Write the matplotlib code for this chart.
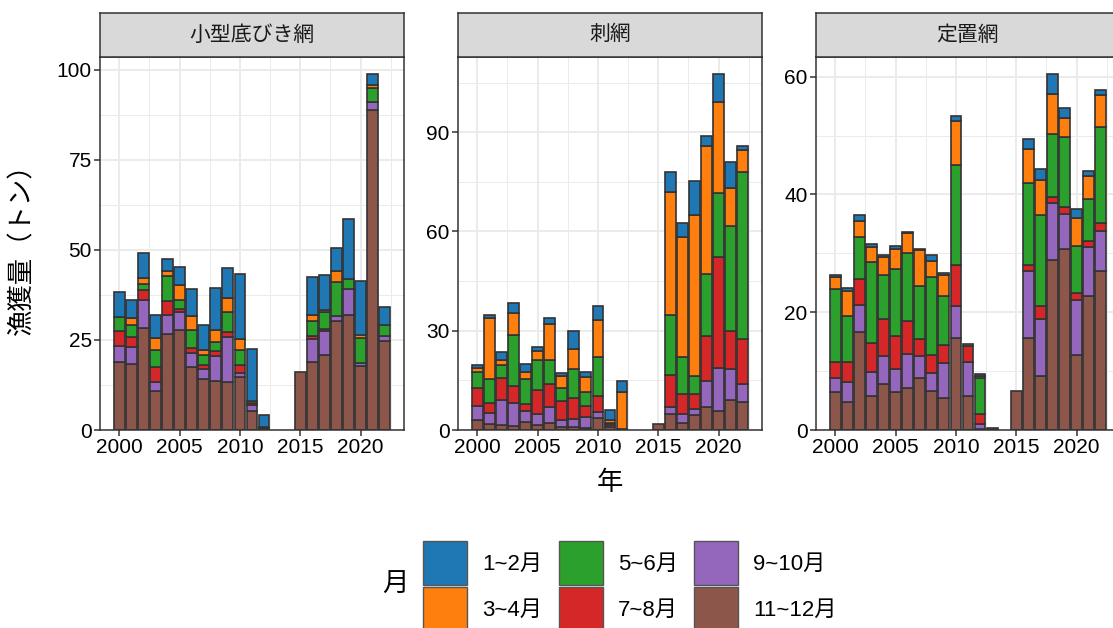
import matplotlib
matplotlib.use("Agg")
import matplotlib.pyplot as plt
import matplotlib.patches as mpatches
from matplotlib.ticker import MultipleLocator
import numpy as np

plt.rcParams['font.family'] = ['Liberation Sans', 'Noto Sans CJK JP', 'DejaVu Sans']

years = np.arange(2000, 2023)
months = ["1~2月", "3~4月", "5~6月", "7~8月", "9~10月", "11~12月"]
colors = ["#1F77B4", "#FF7F0E", "#2CA02C", "#D62728", "#9467BD", "#8C564B"]
gears = ["小型底びき網", "刺網", "定置網"]

# catch (t) per year, one row per month group, rows in the order of `months`
kogata = [
    [6.9, 5.1, 6.9, 6.5, 3.3, 5.1, 7.4, 6.9, 11.8, 8.3, 18.1, 14.4, 3.3, 0, 0, 0, 10.7, 9.5, 6.5, 16.7, 15.0, 2.9, 5.0],
    [0, 2.0, 1.5, 3.2, 1.3, 3.9, 3.8, 1.4, 3.4, 3.9, 3.2, 0.7, 0.3, 0, 0, 0, 1.6, 0.7, 3.1, 0, 0.8, 0.8, 0],
    [3.8, 3.4, 1.8, 4.8, 6.9, 2.6, 5.1, 3.0, 2.3, 5.7, 4.0, 0, 0, 0, 0, 0, 4.2, 4.6, 9.4, 2.6, 6.9, 4.0, 3.2],
    [4.3, 2.8, 2.6, 4.2, 4.1, 0.9, 1.4, 0.9, 1.6, 1.3, 2.3, 0.5, 0, 0, 0, 0, 0.7, 0.5, 0, 0, 0, 0, 0],
    [4.3, 4.5, 7.9, 2.6, 5.3, 5.0, 3.8, 2.8, 6.9, 12.6, 1.2, 1.5, 0, 0, 0, 0, 6.5, 6.7, 1.4, 7.2, 0.8, 2.1, 1.2],
    [19.0, 18.4, 28.3, 10.7, 26.5, 27.7, 17.5, 14.2, 13.5, 13.2, 14.6, 5.4, 0.5, 0, 0, 16.0, 18.8, 20.9, 30.2, 32.0, 17.8, 88.9, 24.8],
]
sashiami = [
    [0.8, 1.0, 2.3, 2.9, 2.5, 1.0, 2.0, 1.0, 5.5, 1.6, 4.3, 3.0, 3.3, 0, 0, 0, 6.1, 4.3, 10.4, 3.1, 8.4, 8.0, 1.1],
    [1.2, 18.5, 1.5, 6.8, 2.0, 2.8, 10.7, 3.4, 6.0, 4.3, 10.9, 0.8, 11.3, 0, 0, 0, 36.9, 36.4, 48.7, 38.7, 27.6, 11.6, 6.7],
    [4.7, 7.3, 4.0, 15.3, 7.5, 9.1, 7.3, 4.0, 8.9, 4.2, 11.8, 0.2, 0, 0, 0, 0, 18.4, 11.1, 5.3, 18.9, 19.2, 31.7, 50.3],
    [5.5, 3.0, 6.6, 5.2, 2.3, 7.3, 7.1, 5.8, 6.4, 3.4, 5.0, 0.4, 0, 0, 0, 0, 9.4, 6.1, 4.5, 13.4, 33.6, 11.3, 13.6],
    [4.3, 3.4, 7.6, 6.9, 3.1, 3.3, 4.8, 2.0, 2.2, 3.3, 1.7, 0.8, 0, 0, 0, 0, 2.3, 2.6, 1.8, 7.8, 12.9, 9.4, 5.4],
    [3.0, 1.7, 1.5, 1.2, 2.5, 1.5, 2.0, 1.0, 1.0, 0.7, 3.7, 0.8, 0.3, 0, 0, 1.7, 4.8, 2.2, 4.6, 7.1, 5.8, 9.1, 8.6],
]
teichi = [
    [0.4, 0.5, 1.0, 0.4, 0.3, 0.5, 0.2, 0.2, 1.0, 0.2, 1.0, 0, 0.3, 0, 0, 0, 1.7, 1.8, 3.4, 1.7, 1.5, 0.9, 0.9],
    [2.0, 4.2, 2.7, 2.6, 3.1, 3.5, 3.4, 6.0, 2.7, 3.6, 7.4, 0, 0.4, 0, 0, 0, 5.7, 6.0, 6.8, 3.3, 4.8, 3.8, 5.4],
    [12.4, 7.8, 7.2, 13.8, 7.4, 11.4, 11.5, 9.0, 13.2, 8.4, 17.0, 0.3, 6.0, 0, 0, 0, 13.9, 15.5, 10.7, 11.9, 8.0, 7.2, 16.4],
    [2.7, 3.4, 4.3, 4.9, 6.4, 5.5, 5.6, 3.0, 3.1, 3.1, 6.9, 2.8, 1.7, 0, 0, 0, 1.1, 2.1, 1.0, 1.2, 1.2, 1.1, 1.3],
    [2.4, 3.5, 4.7, 4.1, 4.7, 3.9, 5.7, 3.7, 3.1, 5.9, 5.4, 5.7, 0.9, 0, 0, 0, 11.4, 9.8, 9.6, 5.9, 9.2, 8.2, 6.8],
    [6.5, 4.7, 16.6, 5.7, 7.8, 6.5, 7.2, 8.8, 6.6, 5.4, 15.7, 5.8, 0.2, 0.3, 0, 6.7, 15.6, 9.1, 28.9, 30.7, 12.8, 22.8, 27.0],
]
catches = [kogata, sashiami, teichi]
y_steps = [25, 30, 20]

W, H = 1113, 628
fig = plt.figure(figsize=(W / 100, H / 100), dpi=100)


def px_rect(x0, y0, x1, y1):
    return [x0 / W, 1 - y1 / H, (x1 - x0) / W, (y1 - y0) / H]


edge = "#333333"
panel_left = [100, 458, 816]
panel_w = 304

for gi, gear in enumerate(gears):
    x0 = panel_left[gi]
    ax = fig.add_axes(px_rect(x0, 56.5, x0 + panel_w, 430))
    data = np.array(catches[gi])

    # stack from the last month group upwards so 1~2月 ends on top
    bottom = np.zeros(len(years))
    for mi in range(len(months) - 1, -1, -1):
        vals = data[mi]
        m = vals > 0
        ax.bar(years[m], vals[m], bottom=bottom[m], width=0.9,
               color=colors[mi], edgecolor=edge, linewidth=1.2, zorder=3)
        bottom += vals

    ax.set_xlim(1998.4, 2023.6)
    ax.set_ylim(0, bottom.max() * 1.05)
    ax.xaxis.set_major_locator(MultipleLocator(5))
    ax.xaxis.set_minor_locator(MultipleLocator(2.5))
    ax.yaxis.set_major_locator(MultipleLocator(y_steps[gi]))
    ax.yaxis.set_minor_locator(MultipleLocator(y_steps[gi] / 2))
    ax.grid(which="major", color="#EBEBEB", linewidth=1.4, zorder=0)
    ax.grid(which="minor", color="#EBEBEB", linewidth=0.7, zorder=0)
    ax.set_axisbelow(True)
    ax.tick_params(which="major", direction="out", length=4, width=1.1,
                   color=edge, labelsize=15, labelcolor="black", pad=2)
    ax.tick_params(which="minor", length=0)
    for sp in ax.spines.values():
        sp.set_color(edge)
        sp.set_linewidth(1.1)
        sp.set_zorder(4)

    strip = fig.add_axes(px_rect(x0, 13, x0 + panel_w, 56.5))
    strip.set_facecolor("#D9D9D9")
    strip.set_xticks([])
    strip.set_yticks([])
    for sp in strip.spines.values():
        sp.set_color(edge)
        sp.set_linewidth(1.1)
    strip.text(0.5, 0.5, gear, ha="center", va="center", fontsize=15,
               color="#1A1A1A", transform=strip.transAxes)

fig.text(610 / W, 1 - 483 / H, "年", ha="center", va="center", fontsize=19)
fig.text(22 / W, 1 - 243 / H, "漁獲量（トン）", ha="center", va="center",
         rotation=90, fontsize=19)

handles = [mpatches.Patch(facecolor=c, edgecolor="#555555", linewidth=1.0)
           for c in colors]
fig.legend(handles, months, loc="upper left",
           bbox_to_anchor=(423 / W, 1 - 541 / H), ncol=3, frameon=False,
           fontsize=16, handlelength=1.98, handleheight=2.67,
           handletextpad=0.675, labelspacing=0.1, columnspacing=0.75,
           borderpad=0, borderaxespad=0)
fig.text(395 / W, 1 - 585 / H, "月", ha="center", va="center", fontsize=19)

fig.savefig("out.png", dpi=100)
